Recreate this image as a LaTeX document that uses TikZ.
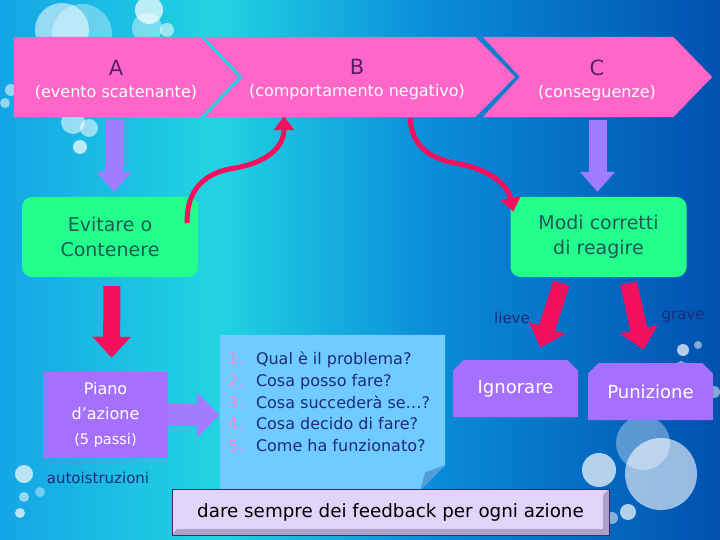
\documentclass[tikz,border=0pt]{standalone}
\usepackage{fontspec}
\setmainfont{DejaVu Sans}
\usetikzlibrary{shapes.misc, arrows.meta, calc}
\definecolor{abcpink}{RGB}{255,102,200}
\definecolor{abcletter}{RGB}{90,30,110}
\definecolor{boxgreen}{RGB}{34,255,140}
\definecolor{greentext}{RGB}{30,90,85}
\definecolor{boxpurple}{RGB}{166,112,255}
\definecolor{arrpurple}{RGB}{160,124,255}
\definecolor{arrred}{RGB}{245,16,95}
\definecolor{listblue}{RGB}{112,204,255}
\definecolor{listfold}{RGB}{80,160,215}
\definecolor{numpink}{RGB}{255,130,212}
\definecolor{navy}{RGB}{30,42,120}
\definecolor{fblavender}{RGB}{224,212,248}
\definecolor{fbbevel}{RGB}{170,160,200}
\definecolor{fbborder}{RGB}{60,40,110}
\definecolor{bgleft}{RGB}{20,165,230}
\definecolor{bgcyan}{RGB}{34,212,226}
\definecolor{bgmid}{RGB}{10,140,218}
\definecolor{bgdark}{RGB}{0,80,176}
\pgfdeclarehorizontalshading{bgshade}{100bp}{color(0bp)=(bgleft); color(25bp)=(bgleft); color(40bp)=(bgcyan); color(55bp)=(bgmid); color(75bp)=(bgdark); color(100bp)=(bgdark)}

\begin{document}
\begin{tikzpicture}[x=1pt, y=-1pt,
  chev/.style={rectangle, minimum height=80pt, inner sep=0pt},
  chevtext/.style={align=center, text=white, font=\fontsize{16}{22}\selectfont},
  greenbox/.style={rectangle, rounded corners=10pt, fill=boxgreen, text=greentext, minimum width=176pt, minimum height=80pt, align=center, font=\fontsize{19}{25}\selectfont},
  purplebox/.style={rectangle, fill=boxpurple, text=white, align=center, font=\fontsize{16}{25}\selectfont},
  cutbox/.style={chamfered rectangle, chamfered rectangle corners={north west, north east}, chamfered rectangle xsep=7pt, fill=boxpurple, text=white, minimum width=125pt, minimum height=57pt, inner sep=0pt, font=\fontsize{18}{20}\selectfont},
  lbl/.style={text=navy, font=\fontsize{15}{16}\selectfont},
  bubble/.style={fill=white, opacity=0.55},
  purplearr/.style={arrpurple, line width=18pt, -{Triangle[length=20pt, width=34pt]}},
  redarr/.style={arrred, line width=17pt, -{Triangle[length=21pt, width=37pt]}},
  curvearr/.style={arrred, line width=5pt, -{Triangle[length=14pt, width=20pt]}}
]
\useasboundingbox (0,0) rectangle (720,540);
\shade[shading=bgshade] (0,0) rectangle (720,540);

% bubbles
\fill[bubble] (62,30) circle (27);
\fill[bubble, opacity=0.35] (82,34) circle (30);
\fill[bubble, opacity=0.7] (149,10) circle (14);
\fill[bubble, opacity=0.4] (147,28) circle (15);
\fill[bubble] (167,30) circle (7);
\fill[bubble] (11,90) circle (6);
\fill[bubble] (5,103) circle (5);
\fill[bubble] (73,122) circle (12);
\fill[bubble] (89,128) circle (9);
\fill[bubble, opacity=0.7] (80,147) circle (7);
\fill[bubble, opacity=0.7] (24,474) circle (9);
\fill[bubble, opacity=0.4] (40,492) circle (5);
\fill[bubble] (24,497) circle (5);
\fill[bubble, opacity=0.7] (20,513) circle (5);
\fill[bubble, opacity=0.35] (643,443) circle (27);
\fill[bubble, opacity=0.6] (661,474) circle (36);
\fill[bubble, opacity=0.7] (599,470) circle (17);
\fill[bubble, opacity=0.7] (628,512) circle (8);
\fill[bubble, opacity=0.5] (612,518) circle (6);
\fill[bubble, opacity=0.7] (683,350) circle (6);
\fill[bubble, opacity=0.5] (698,345) circle (4);
\fill[bubble, opacity=0.5] (681,366) circle (5);
\fill[bubble, opacity=0.5] (714,392) circle (6);

% A B C
\node[chev, minimum width=224pt] (A) at (126,77) {};
\node[chev, minimum width=310pt] (B) at (360,77) {};
\node[chev, minimum width=229pt] (C) at (597.5,77) {};
\fill[abcpink] (A.north west) -- ($(A.north east)+(-38,0)$) -- (A.east) -- ($(A.south east)+(-38,0)$) -- (A.south west) -- cycle;
\fill[abcpink] (B.north west) -- ($(B.north east)+(-40,0)$) -- (B.east) -- ($(B.south east)+(-40,0)$) -- (B.south west) -- ($(B.west)+(38,0)$) -- cycle;
\fill[abcpink] (C.north west) -- ($(C.north east)+(-39,0)$) -- (C.east) -- ($(C.south east)+(-39,0)$) -- (C.south west) -- ($(C.west)+(37,0)$) -- cycle;
\node[chevtext] (Atext) at (116,80) {{\fontsize{21}{22}\selectfont\color{abcletter}A}\\(evento scatenante)};
\node[chevtext] (Btext) at (357,80) {{\fontsize{21}{22}\selectfont\color{abcletter}B}\\(comportamento negativo)};
\node[chevtext] (Ctext) at (597,80) {{\fontsize{21}{22}\selectfont\color{abcletter}C}\\(conseguenze)};

\node[greenbox] (evitare) at (110,237) {Evitare o\\Contenere};
\node[greenbox] (modi) at (598.5,237) {Modi corretti\\di reagire};

\node[purplebox, minimum width=125pt, minimum height=86pt] (piano) at (105.5,415) {Piano\\d’azione\\{\fontsize{14.5}{18}\selectfont(5 passi)}};
\node[cutbox] (ignorare) at (515.5,388.5) {Ignorare};
\node[cutbox] (punizione) at (650.5,391.5) {Punizione};

% steps list
\node[minimum width=225pt, minimum height=155pt, inner sep=0pt] (list) at (332.5,412.5) {};
\fill[listblue] (list.north west) -- (list.north east) -- ($(list.south east)+(0,-25)$) -- ($(list.south east)+(-25,0)$) -- (list.south west) -- cycle;
\fill[listfold] ($(list.south east)+(0,-25)$) -- ($(list.south east)+(-25,0)$) -- ($(list.south east)+(-20,-18)$) -- cycle;
\node[anchor=north west, align=left, text=navy, inner sep=0pt, font=\fontsize{16}{21.7}\selectfont] (steps) at ($(list.north west)+(8,17)$) {%
\makebox[28pt][l]{\color{numpink}1.}Qual è il problema?\\
\makebox[28pt][l]{\color{numpink}2.}Cosa posso fare?\\
\makebox[28pt][l]{\color{numpink}3.}Cosa succederà se…?\\
\makebox[28pt][l]{\color{numpink}4.}Cosa decido di fare?\\
\makebox[28pt][l]{\color{numpink}5.}Come ha funzionato?};

% feedback
\node[fill=fblavender, draw=fbborder, minimum width=437pt, minimum height=46pt, font=\fontsize{18.3}{20}\selectfont] (fb) at (390.5,512) {dare sempre dei feedback per ogni azione};
\fill[fbbevel] (fb.north east) -- (fb.south east) -- ($(fb.south east)+(-6,-6)$) -- ($(fb.north east)+(-6,6)$) -- cycle;
\fill[fbbevel] (fb.south west) -- (fb.south east) -- ($(fb.south east)+(-6,-6)$) -- ($(fb.south west)+(5,-6)$) -- cycle;
\draw[fbborder] (fb.north west) rectangle (fb.south east);

% arrows
\draw[purplearr] ($(A.south -| evitare.north)+(4,3)$) -- ($(evitare.north)+(4,-5)$);
\draw[purplearr] ($(C.south -| modi.north)+(-1,3)$) -- ($(modi.north)+(-1,-5)$);
\draw[redarr] ($(evitare.south)+(2,9)$) -- ($(piano.north)+(6,-14)$);
\draw[redarr] ($(modi.south)+(-37,6)$) -- ($(ignorare.north)+(25,-12)$);
\draw[redarr] ($(modi.south)+(30,6)$) -- ($(punizione.north)+(-7,-13)$);
\draw[arrpurple, line width=22pt, -{Triangle[length=23pt, width=44pt]}] (piano.east) -- (piano.east -| list.west);
\draw[curvearr] ($(evitare.east)+(-11,-14)$) .. controls (186,190) and (205,172) .. (235,168) .. controls (265,163) and (284,148) .. ($(B.south)+(-76,-1)$);
\draw[curvearr] ($(B.south)+(50,1)$) .. controls (412,150) and (435,160) .. (460,164) .. controls (490,170) and (508,185) .. ($(modi.north west)+(3,15)$);

% Labels
\node[lbl] (lieve) at (512,318) {lieve};
\node[lbl] (grave) at (683,317) {grave};
\node[lbl] (autoistr) at (98,478) {autoistruzioni};
\end{tikzpicture}
\end{document}
